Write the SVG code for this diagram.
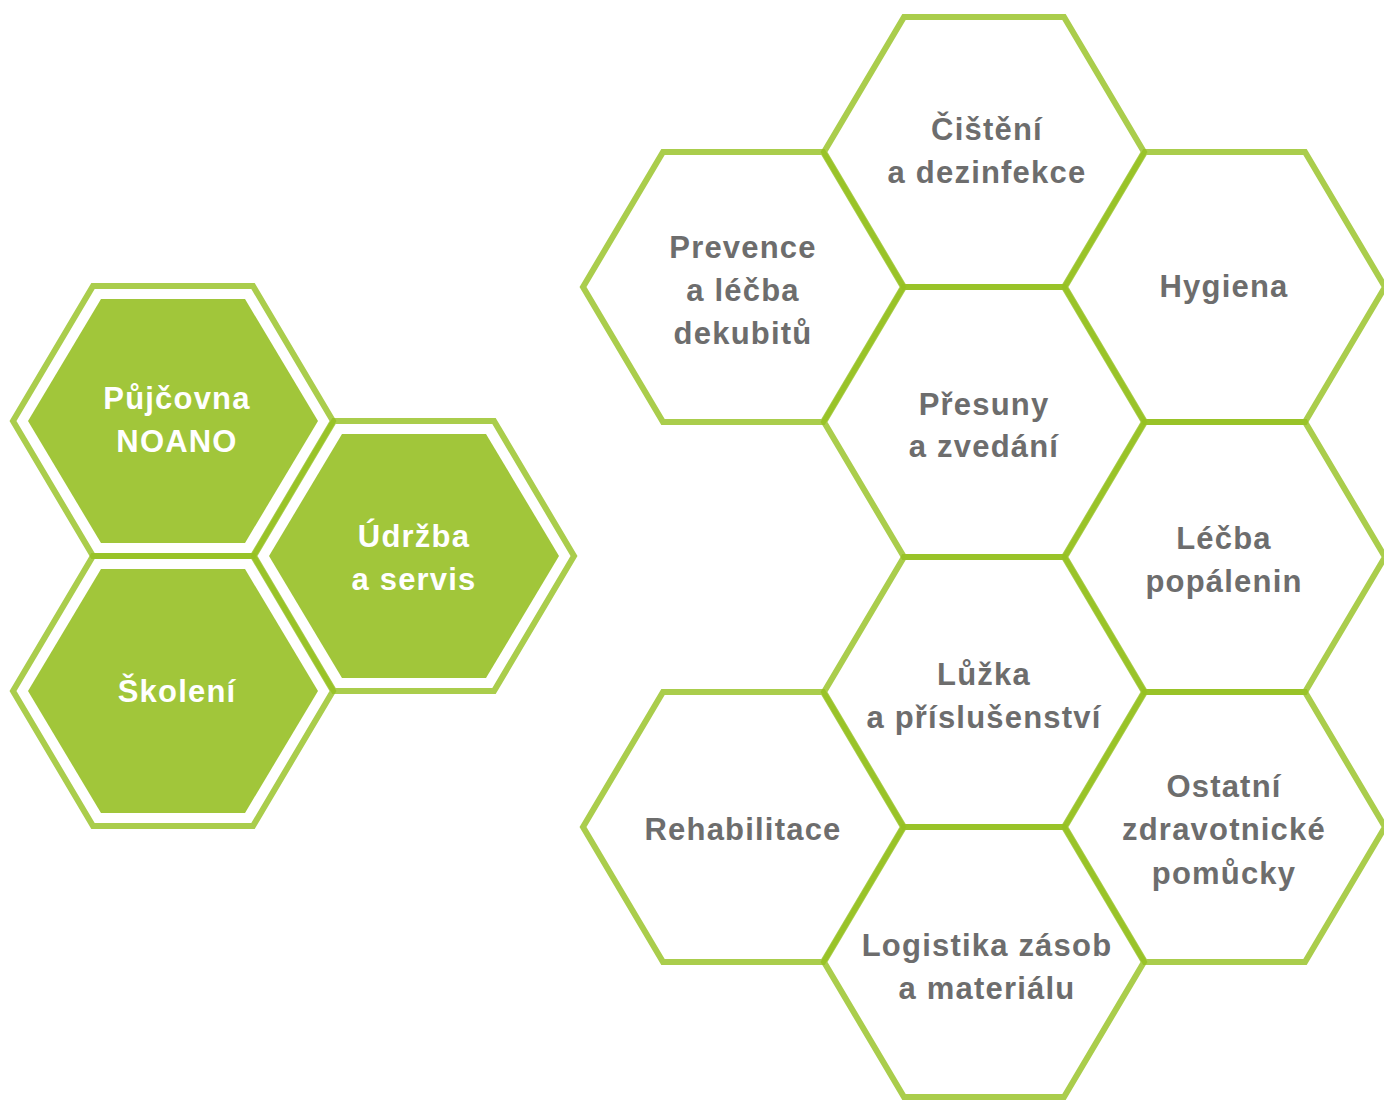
<svg xmlns="http://www.w3.org/2000/svg" xmlns:xlink="http://www.w3.org/1999/xlink" width="1384" height="1101" viewBox="0 0 1384 1101">
<style>
.hex{fill:none;stroke:#95c11f;stroke-opacity:0.8;stroke-width:6;stroke-linejoin:miter}
.inner{fill:#a1c63a}
.t{font-family:"Liberation Sans",Arial,sans-serif;font-weight:bold;font-size:31px;letter-spacing:1.2px;text-anchor:middle;fill:#6d6d6d}
.w{fill:#ffffff}
</style>
<defs>
<polygon id="h" points="-160,0 -80,-135 80,-135 160,0 80,135 -80,135"/>
<polygon id="f" points="-145,0 -72,-122 72,-122 145,0 72,122 -72,122"/>
</defs>
<rect width="1384" height="1101" fill="#ffffff"/>
<g id="pujcovna">
<use xlink:href="#h" class="hex" transform="translate(173,421)"/>
<use xlink:href="#f" class="inner" transform="translate(173,421)"/>
<text class="t w" x="177" y="409">Půjčovna</text>
<text class="t w" x="177" y="452">NOANO</text>
</g>
<g id="udrzba">
<use xlink:href="#h" class="hex" transform="translate(414,556)"/>
<use xlink:href="#f" class="inner" transform="translate(414,556)"/>
<text class="t w" x="414" y="547">Údržba</text>
<text class="t w" x="414" y="590">a servis</text>
</g>
<g id="skoleni">
<use xlink:href="#h" class="hex" transform="translate(173,691)"/>
<use xlink:href="#f" class="inner" transform="translate(173,691)"/>
<text class="t w" x="177" y="702">Školení</text>
</g>
<g id="prevence">
<use xlink:href="#h" class="hex" transform="translate(743,287)"/>
<text class="t" x="743" y="258">Prevence</text>
<text class="t" x="743" y="301">a léčba</text>
<text class="t" x="743" y="344">dekubitů</text>
</g>
<g id="rehabilitace">
<use xlink:href="#h" class="hex" transform="translate(743,827)"/>
<text class="t" x="743" y="840">Rehabilitace</text>
</g>
<g id="cisteni">
<use xlink:href="#h" class="hex" transform="translate(984,152)"/>
<text class="t" x="987" y="140">Čištění</text>
<text class="t" x="987" y="183">a dezinfekce</text>
</g>
<g id="presuny">
<use xlink:href="#h" class="hex" transform="translate(984,422)"/>
<text class="t" x="984" y="415">Přesuny</text>
<text class="t" x="984" y="457">a zvedání</text>
</g>
<g id="luzka">
<use xlink:href="#h" class="hex" transform="translate(984,692)"/>
<text class="t" x="984" y="685">Lůžka</text>
<text class="t" x="984" y="728">a příslušenství</text>
</g>
<g id="logistika">
<use xlink:href="#h" class="hex" transform="translate(984,962)"/>
<text class="t" x="987" y="956">Logistika zásob</text>
<text class="t" x="987" y="999">a materiálu</text>
</g>
<g id="hygiena">
<use xlink:href="#h" class="hex" transform="translate(1225,287)"/>
<text class="t" x="1224" y="297">Hygiena</text>
</g>
<g id="lecba">
<use xlink:href="#h" class="hex" transform="translate(1225,557)"/>
<text class="t" x="1224" y="549">Léčba</text>
<text class="t" x="1224" y="592">popálenin</text>
</g>
<g id="ostatni">
<use xlink:href="#h" class="hex" transform="translate(1225,827)"/>
<text class="t" x="1224" y="797">Ostatní</text>
<text class="t" x="1224" y="840">zdravotnické</text>
<text class="t" x="1224" y="884">pomůcky</text>
</g>
<g id="connectors"></g>
</svg>
